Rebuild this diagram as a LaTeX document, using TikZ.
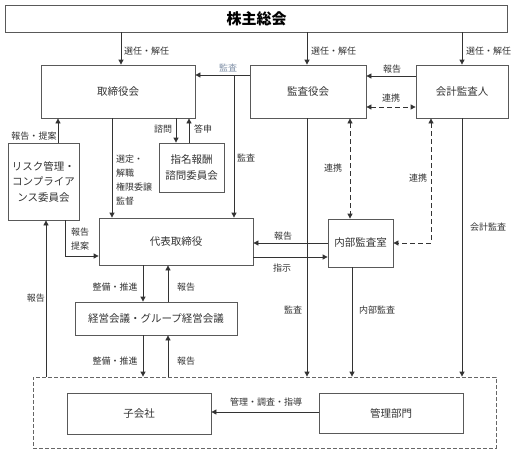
\documentclass[tikz,border=0pt]{standalone}
\usepackage{fontspec}
\setmainfont{Noto Sans CJK JP}
\usetikzlibrary{arrows.meta,positioning}
\definecolor{kansablue}{HTML}{7F8FA6}

\tikzset{
  box/.style={rectangle, draw=black!65, line width=0.8pt, align=center, text=black!80,
    font=\fontsize{10.5}{16}\selectfont},
  lbl/.style={inner sep=0pt, text=black!80, font=\fontsize{9}{14}\selectfont},
  arr/.style={draw=black!80, line width=0.8pt, -{Triangle[length=5pt,width=5pt]}},
  dasharr/.style={arr, dash pattern=on 5pt off 3pt,
    {Triangle[length=5pt,width=5pt]}-{Triangle[length=5pt,width=5pt]}}
}

\begin{document}
\begin{tikzpicture}[x=1pt,y=-1pt]
\useasboundingbox (0,0) rectangle (514,456);
% boxes
\node[box, minimum width=502pt, minimum height=27pt, text=black,
  font=\fontsize{15}{18}\selectfont\bfseries] (soukai) at (256.5,18.5) {株主総会};
\node[box, minimum width=154pt, minimum height=53pt] (torishimari) at (118,91.5) {取締役会};
\node[box, minimum width=116pt, minimum height=53pt] (kansayaku) at (308,91.5) {監査役会};
\node[box, minimum width=92pt, minimum height=53pt] (kaikei) at (462,91.5) {会計監査人};
\node[box, minimum width=65pt, minimum height=49pt] (shimei) at (191.5,167.5) {指名報酬\\諮問委員会};
\node[box, minimum width=71pt, minimum height=77pt, font=\fontsize{10.5}{15.5}\selectfont]
  (risk) at (43.5,181.5) {リスク管理・\\コンプライア\\ンス委員会};
\node[box, minimum width=154pt, minimum height=47pt] (daihyo) at (176,241.5) {代表取締役};
\node[box, minimum width=65pt, minimum height=48pt] (naibu) at (360.5,243) {内部監査室};
\node[box, minimum width=162pt, minimum height=33pt] (keiei) at (156,318.5) {経営会議・グループ経営会議};
\node[box, draw=black!60, dash pattern=on 4pt off 2pt, minimum width=463pt, minimum height=71pt]
  (group) at (264.5,412.5) {};
\node[box, minimum width=144pt, minimum height=41pt] (kogaisha) at (139,413.5) {子会社};
\node[box, minimum width=144pt, minimum height=40pt] (kanri) at (391,413) {管理部門};

% 株主総会
\draw[arr] (soukai.south -| 121,0) -- (torishimari.north -| 121,0);
\draw[arr] (soukai.south -| 307,0) -- (kansayaku.north -| 307,0);
\draw[arr] (soukai.south -| kaikei.north) -- (kaikei.north);
\node[lbl, anchor=west] (sennin1) at (124,51) {選任・解任};
\node[lbl, anchor=west] (sennin2) at (311,51) {選任・解任};
\node[lbl, anchor=west] (sennin3) at (466,51) {選任・解任};

% 監査役会・会計監査人
\draw[arr] (kaikei.west |- 0,76) -- (kansayaku.east |- 0,76);
\node[lbl] (hokoku1) at (392,69) {報告};
\draw[dasharr] (kansayaku.east |- 0,107) -- (kaikei.west |- 0,107);
\node[lbl] (renkei1) at (391,98) {連携};

\draw[arr] (kansayaku.west |- 0,75) -- (torishimari.east |- 0,75);
\node[lbl, text=kansablue] (kansa1) at (228,68) {監査};
\coordinate (kbr) at (234,75);
\draw[arr] (kbr) -- (kbr |- daihyo.north);
\node[lbl] (kansa2) at (246,158) {監査};

\draw[arr] (kansayaku.south -| 307,0) -- (group.north -| 307,0);
\node[lbl] (kansa3) at (293,310) {監査};
\draw[dasharr] (kansayaku.south -| 350,0) -- (naibu.north -| 350,0);
\node[lbl] (renkei2) at (333,168) {連携};
\draw[dasharr] (kaikei.south -| 431,0) |- (naibu.east);
\node[lbl] (renkei3) at (418,178) {連携};
\draw[arr] (kaikei.south) -- (group.north -| kaikei.south);
\node[lbl] (kaikeikansa) at (488,227) {会計監査};

% 内部監査室
\draw[arr] (naibu.west) -- (daihyo.east |- naibu.west);
\node[lbl] (hokoku2) at (283,236) {報告};
\draw[arr] (daihyo.east |- 0,257) -- (naibu.west |- 0,257);
\node[lbl] (shiji) at (282,268) {指示};
\draw[arr] (naibu.south -| 352,0) -- (group.north -| 352,0);
\node[lbl] (naibukansa) at (377,310) {内部監査};

% 取締役会
\draw[arr] (torishimari.south -| 112,0) -- (daihyo.north -| 112,0);
\node[lbl, anchor=north west, align=left] (sentei) at (116,155) {選定・\\解職\\権限委譲\\監督};
\draw[arr] (torishimari.south -| 176,0) -- (shimei.north -| 176,0);
\node[lbl] (shimon) at (163,129) {諮問};
\draw[arr] (shimei.north -| 189,0) -- (torishimari.south -| 189,0);
\node[lbl] (toshin) at (203,129) {答申};

% リスク管理・コンプライアンス委員会
\draw[arr] (risk.north -| 58,0) -- (torishimari.south -| 58,0);
\node[lbl] (hokokuteian1) at (34,136) {報告・提案};
\draw[arr] (risk.south -| 65,0) |- (daihyo.west |- 0,256);
\node[lbl, align=left] (hokokuteian2) at (80,239) {報告\\提案};
\draw[arr] (group.north -| 46,0) -- (risk.south -| 46,0);
\node[lbl] (hokoku3) at (36,298) {報告};

% 経営会議
\draw[arr] (daihyo.south -| 143,0) -- (keiei.north -| 143,0);
\node[lbl] (seibi1) at (115,287) {整備・推進};
\draw[arr] (keiei.north -| 168,0) -- (daihyo.south -| 168,0);
\node[lbl] (hokoku4) at (186,287) {報告};
\draw[arr] (keiei.south -| 143,0) -- (group.north -| 143,0);
\node[lbl] (seibi2) at (115,361) {整備・推進};
\draw[arr] (group.north -| 168,0) -- (keiei.south -| 168,0);
\node[lbl] (hokoku5) at (186,361) {報告};

% 管理部門
\draw[arr] (kanri.west |- 0,412) -- (kogaisha.east |- 0,412);
\node[lbl] (kanrichosa) at (266,402) {管理・調査・指導};
\end{tikzpicture}
\end{document}
